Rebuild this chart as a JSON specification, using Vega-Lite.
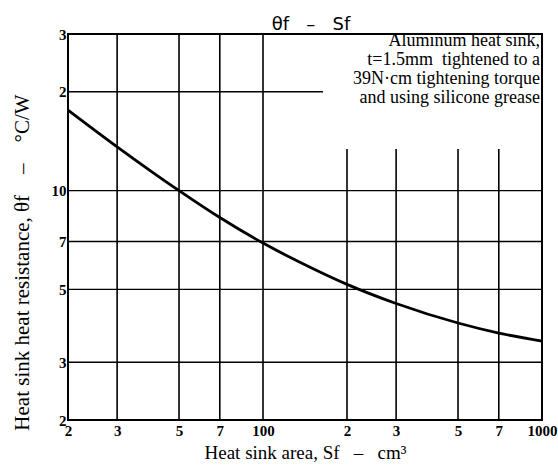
{
  "$schema": "https://vega.github.io/schema/vega-lite/v6.json",
  "width": 474,
  "height": 386,
  "autosize": {"type": "none"},
  "padding": {"left": 68, "top": 34, "right": 16, "bottom": 55},
  "background": "white",
  "config": {
    "view": {"stroke": "black", "strokeWidth": 2},
    "axis": {"domain": false, "ticks": false, "grid": false, "labelColor": "black", "titleColor": "black"}
  },
  "title": {"text": "θf\u00a0\u00a0\u00a0–\u00a0\u00a0\u00a0Sf", "font": "DejaVu Sans", "fontSize": 18, "fontWeight": "normal", "color": "black", "offset": -7, "anchor": "middle", "dx": 6},
  "datasets": {
    "curve": [
      {"s": 20, "theta": 17.6},
      {"s": 30, "theta": 13.6},
      {"s": 50, "theta": 10.0},
      {"s": 70, "theta": 8.28},
      {"s": 100, "theta": 6.92},
      {"s": 150, "theta": 5.8},
      {"s": 200, "theta": 5.18},
      {"s": 300, "theta": 4.53},
      {"s": 500, "theta": 3.95},
      {"s": 700, "theta": 3.68},
      {"s": 1000, "theta": 3.48}
    ],
    "vgrid": [
      {"s": 30, "y1": 2, "y2": 30},
      {"s": 50, "y1": 2, "y2": 30},
      {"s": 70, "y1": 2, "y2": 30},
      {"s": 100, "y1": 2, "y2": 30},
      {"s": 200, "y1": 2, "y2": 13.4},
      {"s": 300, "y1": 2, "y2": 13.4},
      {"s": 500, "y1": 2, "y2": 13.4},
      {"s": 700, "y1": 2, "y2": 13.4}
    ],
    "hgrid": [
      {"t": 3, "x1": 20, "x2": 1000},
      {"t": 5, "x1": 20, "x2": 1000},
      {"t": 7, "x1": 20, "x2": 1000},
      {"t": 10, "x1": 20, "x2": 1000},
      {"t": 20, "x1": 20, "x2": 164}
    ],
    "notes": [
      {"s": 1000, "theta": 28.5, "label": "Aluminum heat sink,"},
      {"s": 1000, "theta": 24.96, "label": "t=1.5mm\u00a0\u00a0tightened to a"},
      {"s": 1000, "theta": 21.85, "label": "39N·cm tightening torque"},
      {"s": 1000, "theta": 19.12, "label": "and using silicone grease"}
    ]
  },
  "layer": [
    {
      "data": {"name": "vgrid"},
      "mark": {"type": "rule", "color": "black", "strokeWidth": 1.6},
      "encoding": {
        "x": {"field": "s", "type": "quantitative", "scale": {"type": "log", "domain": [20, 1000], "nice": false},
          "axis": {"values": [20, 30, 50, 70, 100, 200, 300, 500, 700, 1000],
            "labelExpr": "datum.value == 100 ? '100' : datum.value == 1000 ? '1000' : format(datum.value / pow(10, floor(log(datum.value)/LN10)), 'd')",
            "labelFont": "Liberation Sans Narrow", "labelFontSize": 15, "labelFontWeight": "bold", "labelPadding": 3, "labelFlush": false, "labelOverlap": false,
            "title": "Heat sink area, Sf\u00a0\u00a0\u00a0–\u00a0\u00a0\u00a0cm³", "titleFont": "Liberation Serif", "titleFontSize": 19, "titleFontWeight": "normal", "titlePadding": 5}},
        "y": {"field": "y1", "type": "quantitative", "scale": {"type": "log", "domain": [2, 30], "nice": false},
          "axis": {"values": [2, 3, 5, 7, 10, 20, 30],
            "labelExpr": "datum.value == 10 ? '10' : format(datum.value / pow(10, floor(log(datum.value)/LN10)), 'd')",
            "labelFont": "Liberation Sans Narrow", "labelFontSize": 15, "labelFontWeight": "bold", "labelPadding": 2, "labelFlush": false, "labelOverlap": false,
            "title": "Heat sink heat resistance, θf\u00a0\u00a0\u00a0\u00a0–\u00a0\u00a0\u00a0\u00a0°C/W", "titleFont": "Liberation Serif", "titleFontSize": 21, "titleFontWeight": "normal", "titlePadding": 19, "titleY": 228}},
        "y2": {"field": "y2"}
      }
    },
    {
      "data": {"name": "hgrid"},
      "mark": {"type": "rule", "color": "black", "strokeWidth": 1.4},
      "encoding": {
        "y": {"field": "t", "type": "quantitative"},
        "x": {"field": "x1", "type": "quantitative"},
        "x2": {"field": "x2"}
      }
    },
    {
      "data": {"name": "curve"},
      "mark": {"type": "line", "color": "black", "strokeWidth": 2.8, "interpolate": "monotone"},
      "encoding": {
        "x": {"field": "s", "type": "quantitative"},
        "y": {"field": "theta", "type": "quantitative"}
      }
    },
    {
      "data": {"name": "notes"},
      "mark": {"type": "text", "align": "right", "baseline": "middle", "dx": -2, "font": "Liberation Serif", "fontSize": 18, "color": "black"},
      "encoding": {
        "x": {"field": "s", "type": "quantitative"},
        "y": {"field": "theta", "type": "quantitative"},
        "text": {"field": "label"}
      }
    }
  ]
}
